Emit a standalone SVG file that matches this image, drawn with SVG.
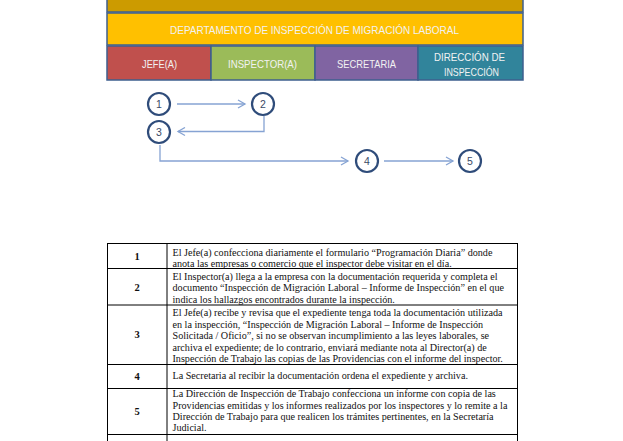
<svg xmlns="http://www.w3.org/2000/svg" width="623" height="441" viewBox="0 0 623 441">
<style>
.band{stroke:#3E5F8E;stroke-width:1.5}
.hl{font-family:"Liberation Sans","Open Sans",sans-serif;font-size:11.5px;fill:#F2F2F2;text-anchor:middle}
.circ{fill:#fff;stroke:#2F4C7A;stroke-width:2.2}
.num{font-family:"Liberation Sans",sans-serif;font-size:10.5px;fill:#3A4A66;text-anchor:middle}
.conn{fill:none;stroke:#86A3D3;stroke-width:1.3}
.tl{stroke:#000;stroke-width:1;fill:none}
.tx{font-family:"Liberation Serif","Times New Roman",serif;font-size:10.15px;fill:#111}
.tn{font-family:"Liberation Serif","Times New Roman",serif;font-size:10.5px;font-weight:bold;fill:#111;text-anchor:middle}
</style>
<defs>
<marker id="ah" markerWidth="10" markerHeight="10" refX="8" refY="5" orient="auto" markerUnits="userSpaceOnUse">
<path d="M1,1 L8,5 L1,9" fill="none" stroke="#86A3D3" stroke-width="1.3"/>
</marker>
</defs>
<rect width="623" height="441" fill="#fff"/>
<g id="header">
<rect class="band" x="107" y="-3" width="416" height="15" fill="#CC9B00"/>
<rect class="band" x="107" y="13" width="416" height="32" fill="#FFC000"/>
<text class="hl" x="314.5" y="34" textLength="289" lengthAdjust="spacingAndGlyphs">DEPARTAMENTO DE INSPECCIÓN DE MIGRACIÓN LABORAL</text>
</g>
<g id="jefe">
<rect class="band" x="107" y="46" width="104" height="34" fill="#C0504D"/>
<text class="hl" x="159.5" y="68" textLength="35" lengthAdjust="spacingAndGlyphs">JEFE(A)</text>
</g>
<g id="inspector">
<rect class="band" x="211" y="46" width="104" height="34" fill="#9BBB59"/>
<text class="hl" x="262.5" y="68" textLength="69" lengthAdjust="spacingAndGlyphs">INSPECTOR(A)</text>
</g>
<g id="secretaria">
<rect class="band" x="315" y="46" width="103" height="34" fill="#8064A2"/>
<text class="hl" x="366.5" y="68" textLength="59" lengthAdjust="spacingAndGlyphs">SECRETARIA</text>
</g>
<g id="direccion">
<rect class="band" x="418" y="46" width="105" height="34" fill="#31849B"/>
<text class="hl" x="469.5" y="61" textLength="71" lengthAdjust="spacingAndGlyphs">DIRECCIÓN DE</text>
<text class="hl" x="471.5" y="75.5" textLength="55" lengthAdjust="spacingAndGlyphs">INSPECCIÓN</text>
</g>
<g id="connectors">
<path class="conn" d="M177,104 H245" marker-end="url(#ah)"/>
<path class="conn" d="M264,116 V131.5 H178" marker-end="url(#ah)"/>
<path class="conn" d="M160,145 V161 H348" marker-end="url(#ah)"/>
<path class="conn" d="M384,161 H453" marker-end="url(#ah)"/>
</g>
<g id="n1"><circle class="circ" cx="159" cy="104" r="11"/><text class="num" x="159" y="107.5">1</text></g>
<g id="n2"><circle class="circ" cx="263" cy="104" r="11"/><text class="num" x="263" y="107.5">2</text></g>
<g id="n3"><circle class="circ" cx="159" cy="132" r="11"/><text class="num" x="159" y="135.5">3</text></g>
<g id="n4"><circle class="circ" cx="367" cy="161" r="11"/><text class="num" x="367" y="164.5">4</text></g>
<g id="n5"><circle class="circ" cx="470" cy="161" r="11"/><text class="num" x="470" y="164.5">5</text></g>
<g id="table">
<path class="tl" d="M107,243.5 H518 M107,268.5 H518 M107,305 H518 M107,364.5 H518 M107,388.5 H518 M107,434.5 H518 M107.5,243 V441 M167,243 V441 M517.5,243 V441"/>
<text class="tn" x="137" y="260">1</text>
<text class="tn" x="137" y="291">2</text>
<text class="tn" x="137" y="338">3</text>
<text class="tn" x="137" y="380">4</text>
<text class="tn" x="137" y="415">5</text>
<text class="tx" x="172.5" y="256">El Jefe(a) confecciona diariamente el formulario “Programación Diaria” donde</text>
<text class="tx" x="172.5" y="267">anota las empresas o comercio que el inspector debe visitar en el día.</text>
<text class="tx" x="172.5" y="279.5">El Inspector(a) llega a la empresa con la documentación requerida y completa el</text>
<text class="tx" x="172.5" y="291">documento “Inspección de Migración Laboral – Informe de Inspección” en el que</text>
<text class="tx" x="172.5" y="302.5">indica los hallazgos encontrados durante la inspección.</text>
<text class="tx" x="172.5" y="316">El Jefe(a) recibe y revisa que el expediente tenga toda la documentación utilizada</text>
<text class="tx" x="172.5" y="327.5">en la inspección, “Inspección de Migración Laboral – Informe de Inspección</text>
<text class="tx" x="172.5" y="339">Solicitada / Oficio”, si no se observan incumplimiento a las leyes laborales, se</text>
<text class="tx" x="172.5" y="350.5">archiva el expediente; de lo contrario, enviará mediante nota al Director(a) de</text>
<text class="tx" x="172.5" y="362">Inspección de Trabajo las copias de las Providencias con el informe del inspector.</text>
<text class="tx" x="172.5" y="378.5">La Secretaria al recibir la documentación ordena el expediente y archiva.</text>
<text class="tx" x="172.5" y="397">La Dirección de Inspección de Trabajo confecciona un informe con copia de las</text>
<text class="tx" x="172.5" y="408.5">Providencias emitidas y los informes realizados por los inspectores y lo remite a la</text>
<text class="tx" x="172.5" y="420">Dirección de Trabajo para que realicen los trámites pertinentes, en la Secretaría</text>
<text class="tx" x="172.5" y="431">Judicial.</text>
</g>
</svg>
